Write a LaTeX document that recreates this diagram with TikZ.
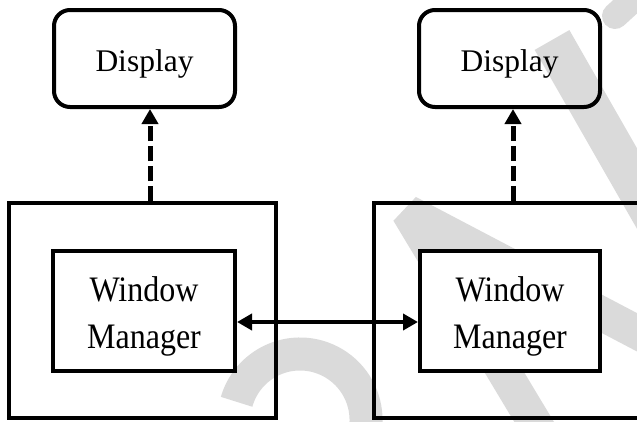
\documentclass[tikz,border=0pt]{standalone}
\usepackage{fontspec}
\usepackage{graphicx}
\setmainfont{Liberation Serif}
\usetikzlibrary{arrows.meta}
\definecolor{wm}{RGB}{218,218,218}
\tikzset{
  dispbox/.style={draw, line width=4pt, rounded corners=16pt,
    minimum width=181pt, minimum height=97pt,
    font=\fontsize{31.5}{37}\selectfont, text height=30pt, text depth=5pt},
  outerbox/.style={draw, line width=4pt, minimum width=267pt, minimum height=215pt},
  mgrbox/.style={draw, line width=4pt, fill=white, minimum height=120pt,
    align=center, font=\fontsize{32}{47}\selectfont},
  wmark/.style={draw=wm, line width=34pt},
  dasharrow/.style={line width=5pt, dash pattern=on 15pt off 5pt,
    -{Triangle[length=15pt,width=16pt]}},
  biarrow/.style={line width=4.5pt,
    {Triangle[length=15pt,width=16pt]}-{Triangle[length=15pt,width=16pt]}},
}
\newcommand{\mgrtext}{\rule{0pt}{35pt}\scalebox{1}[1.12]{Window}\\\scalebox{1}[1.12]{Manager}}
\begin{document}
\begin{tikzpicture}[x=1pt,y=-1pt]
\useasboundingbox (0,0) rectangle (637,421);
\clip (0,0) rectangle (637,421);
% watermark
\draw[wmark, line width=33pt] (236.6,401.8) arc[start angle=196,end angle=400,radius=66];
\draw[wmark, line join=bevel] (548,445) -- (408,212) -- (665,347);
\draw[wmark, line width=40pt] (552,40) -- (655,220);
\draw[wmark, line width=26pt, line cap=round] (615,16) -- (660,-25);
% boxes
\node[outerbox] (outL) at (142.3,310.5) {};
\node[outerbox] (outR) at (507.5,310.5) {};
\node[dispbox] (dispL) at (144.5,58.5) {Display};
\node[dispbox] (dispR) at (509.5,58.5) {Display};
\node[mgrbox, minimum width=182pt] (mgrL) at (144,311) {\mgrtext};
\node[mgrbox, minimum width=180pt] (mgrR) at (510,311) {\mgrtext};
% connectors
\draw[dasharrow] (outL.north -| 150,0) -- (dispL.south -| 150,0);
\draw[dasharrow] (outR.north -| 513,0) -- (dispR.south -| 513,0);
\draw[biarrow] (mgrL.east |- 0,322) -- (mgrR.west |- 0,322);
\end{tikzpicture}
\end{document}
